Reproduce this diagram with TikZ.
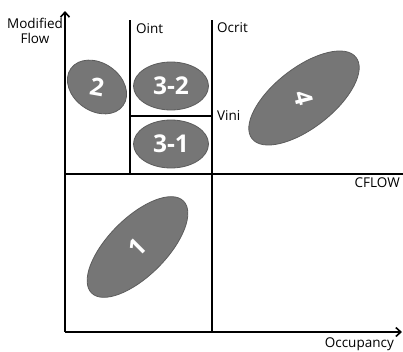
\documentclass[tikz,border=0pt]{standalone}
\usepackage{fontspec}
\setmainfont{Open Sans}
\usepackage{tikz}
\usetikzlibrary{arrows.meta,positioning,shapes.geometric}
\definecolor{blobfill}{HTML}{767676}
\definecolor{blobedge}{HTML}{5C5C5C}

\begin{document}
\begin{tikzpicture}[x=1pt,y=-1pt,
  axis/.style={line width=1.6pt,-{Straight Barb[length=5pt,width=9pt,line width=1.6pt]}},
  bound/.style={line width=1.5pt},
  lbl/.style={font=\fontsize{13.5}{15}\selectfont,inner sep=0pt},
  blob/.style={ellipse,draw=blobedge,fill=blobfill,line width=0.8pt,inner sep=0pt},
  tag/.style={text=white,font=\fontsize{24.5}{26}\selectfont\bfseries,inner sep=0pt}]
 \useasboundingbox (0,0) rectangle (403,351);
 % axes
 \coordinate (origin) at (65,332);
 \coordinate (ytip) at (65,11);
 \coordinate (xtip) at (402,332);
 \draw[axis] (origin)--(ytip);
 \draw[axis] (origin)--(xtip);
 % boundaries
 \coordinate (ointtop) at (130,20);
 \coordinate (ointbot) at (130,174);
 \coordinate (ocrittop) at (212,20);
 \coordinate (ocritbot) at (212,332);
 \coordinate (cflowL) at (65,174);
 \coordinate (cflowR) at (403,174);
 \coordinate (viniL) at (130,116);
 \coordinate (viniR) at (212,116);
 \draw[bound] (ointtop)--(ointbot);
 \draw[bound] (ocrittop)--(ocritbot);
 \draw[bound] (cflowL)--(cflowR);
 \draw[bound] (viniL)--(viniR);
 % labels
 \node[lbl,align=center,anchor=base] (yname) at (35,43.5) {Modified\\Flow};
 \node[lbl,anchor=base east] (xname) at (394,347) {Occupancy};
 \node[lbl,anchor=base west] (oint) at (136,33) {Oint};
 \node[lbl,anchor=base west] (ocrit) at (217,32) {Ocrit};
 \node[lbl,anchor=base west] (vini) at (217,120.5) {Vini};
 \node[lbl,anchor=base east] (cflow) at (400,187.5) {CFLOW};
 % regions
 \node[blob,minimum width=64pt,minimum height=48pt,rotate=-35] (r2) at (97,87) {};
 \node[tag,rotate=-10] at (r2.center) {2};
 \node[blob,minimum width=75pt,minimum height=48pt] (r32) at (171,86) {};
 \node[tag] at (r32.center) {3-2};
 \node[blob,minimum width=75pt,minimum height=48pt] (r31) at (171,144) {};
 \node[tag] at (r31.center) {3-1};
 \node[blob,minimum width=132pt,minimum height=60pt,rotate=38] (r4) at (304,98) {};
 \node[tag,rotate=-75] at (r4.center) {4};
 \node[blob,minimum width=130pt,minimum height=58pt,rotate=45] (r1) at (137.5,247) {};
 \node[tag,rotate=45] at (r1.center) {1};
\end{tikzpicture}
\end{document}
